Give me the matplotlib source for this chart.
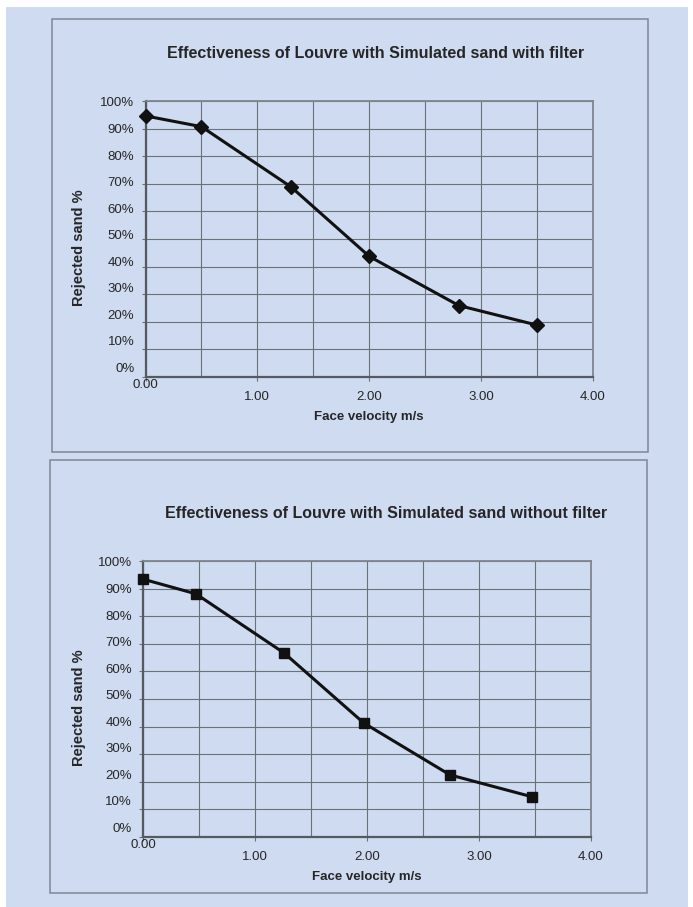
import matplotlib
matplotlib.use('Agg')
import matplotlib.pyplot as plt
import matplotlib.transforms as mtransforms
from matplotlib.patches import Rectangle

plt.rcParams['font.family'] = ['Liberation Sans', 'DejaVu Sans']

# data
velocity_filter = [0.0, 0.5, 1.3, 2.0, 2.8, 3.5]
rejected_filter = [94.6, 90.7, 68.9, 43.7, 25.9, 18.8]

velocity_nofilter = [0.0, 0.47, 1.26, 1.97, 2.74, 3.47]
rejected_nofilter = [93.4, 88.1, 66.6, 41.3, 22.5, 14.6]

titles = ['Effectiveness of Louvre with Simulated sand with filter',
          'Effectiveness of Louvre with Simulated sand without filter']
xlabel = 'Face velocity m/s'
ylabel = 'Rejected sand %'
yticks = list(range(0, 101, 10))
xticks = [0, 1, 2, 3, 4]
xgrid = [0.5, 1.5, 2.5, 3.5]

W, H = 693, 907
bg = '#cfdbf0'
text_col = '#262626'
grid_col = '#6a717b'

fig = plt.figure(figsize=(W / 100, H / 100), dpi=100)
fig.patch.set_facecolor('white')
fig.patches.append(Rectangle((6 / W, 0), 682 / W, 900 / H, transform=fig.transFigure,
                             facecolor=bg, edgecolor='none', zorder=-10))


def px_rect(x0, y0, x1, y1):
    return [x0 / W, 1 - y1 / H, (x1 - x0) / W, (y1 - y0) / H]


# panel frames
for (x0, y0, x1, y1) in [(52, 19, 648, 452), (50.5, 459.5, 646.5, 892.5)]:
    r = px_rect(x0, y0, x1, y1)
    fig.patches.append(Rectangle((r[0], r[1]), r[2], r[3], transform=fig.transFigure,
                                 facecolor='none', edgecolor='#7d8797', lw=1.1, zorder=-5))

panels = [
    dict(rect=px_rect(145.5, 101, 593, 377), x=velocity_filter, y=rejected_filter,
         marker='D', ms=7, title_x=376, title_y=53),
    dict(rect=px_rect(143.3, 561, 591, 837), x=velocity_nofilter, y=rejected_nofilter,
         marker='s', ms=6.5, title_x=386, title_y=513),
]

for i, p in enumerate(panels):
    ax = fig.add_axes(p['rect'])
    ax.set_facecolor(bg)
    ax.plot(p['x'], p['y'], color='#111111', lw=2.2, marker=p['marker'],
            ms=p['ms'], mfc='#111111', mec='#111111', zorder=5, clip_on=False)
    ax.set_xlim(0, 4)
    ax.set_ylim(0, 100)
    ax.set_xticks(xticks)
    ax.set_xticks(xgrid, minor=True)
    ax.set_yticks(yticks)
    ax.set_xticklabels(['%.2f' % v for v in xticks])
    ax.set_yticklabels(['%d%%' % v for v in yticks])
    ax.grid(True, which='both', color=grid_col, lw=0.8)
    ax.tick_params(which='minor', length=0)
    ax.tick_params(which='major', length=3, width=0.8, color=grid_col,
                   labelsize=9.5, labelcolor=text_col, pad=5)
    ax.tick_params(axis='x', pad=7)
    for side in ['left', 'bottom']:
        ax.spines[side].set_color('#555a60')
        ax.spines[side].set_linewidth(1.6)
    for side in ['top', 'right']:
        ax.spines[side].set_color('#80868e')
        ax.spines[side].set_linewidth(1.3)

    # labels in the source sit a little off their grid lines
    for v, lbl in zip(yticks, ax.get_yticklabels()):
        dy = (-1 + 10.7 * (1 - v / 100.0)) * 0.72
        lbl.set_transform(lbl.get_transform() +
                          mtransforms.ScaledTranslation(0, dy / 72, fig.dpi_scale_trans))
    first = ax.get_xticklabels()[0]
    first.set_transform(first.get_transform() +
                        mtransforms.ScaledTranslation(0, 12 * 0.72 / 72, fig.dpi_scale_trans))

    ax.set_xlabel(xlabel, fontsize=9.5, fontweight='bold', color=text_col, labelpad=6)
    ax.set_ylabel(ylabel, fontsize=10.5, fontweight='bold', color=text_col)
    ax.yaxis.set_label_coords(-(p['rect'][0] * W - 86.5) / (p['rect'][2] * W), 0.47)

    fig.text(p['title_x'] / W, 1 - p['title_y'] / H, titles[i], ha='center', va='center',
             fontsize=11.5, fontweight='bold', color=text_col)

fig.savefig('out.png', dpi=100, facecolor='white')
